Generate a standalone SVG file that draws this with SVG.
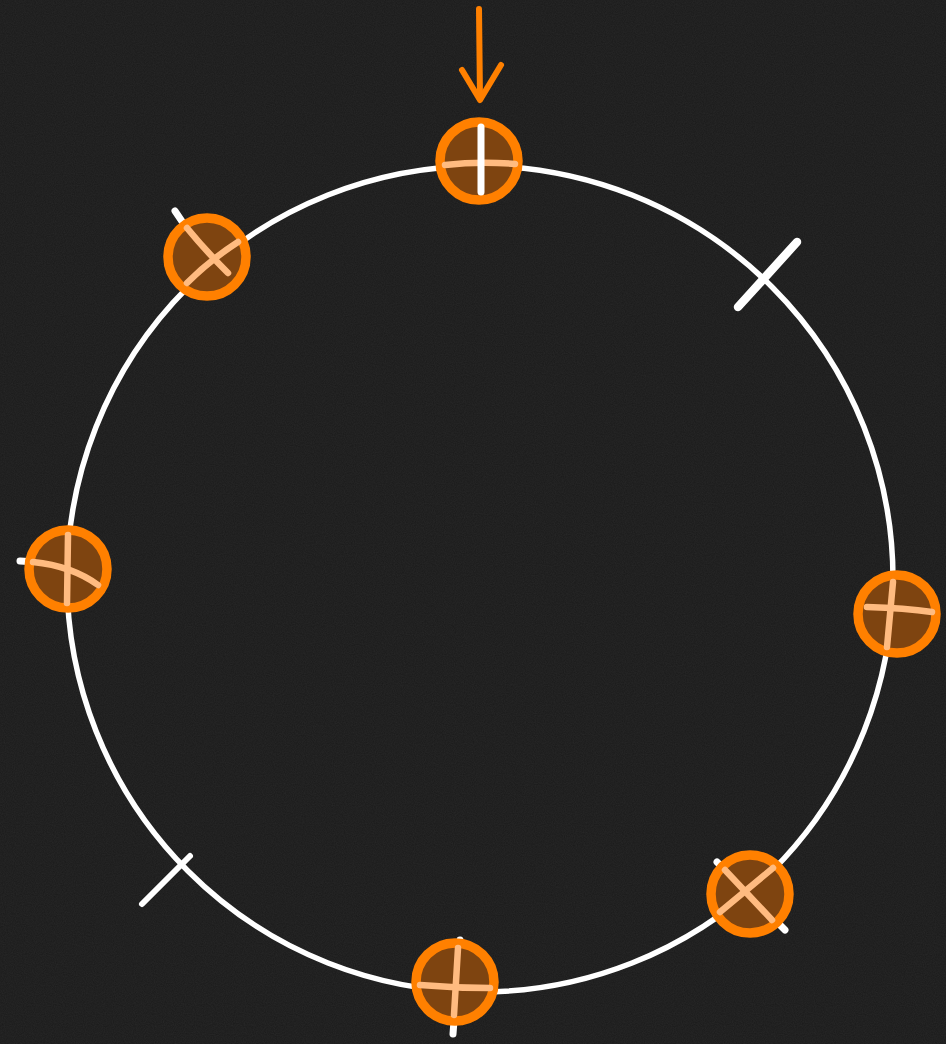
<svg xmlns="http://www.w3.org/2000/svg" width="946" height="1044" viewBox="0 0 946 1044">
<defs>
<filter id="grain" x="0" y="0" width="100%" height="100%">
<feTurbulence type="fractalNoise" baseFrequency="0.9" numOctaves="2" seed="3" result="n"/>
<feColorMatrix in="n" type="matrix" values="0 0 0 0 1  0 0 0 0 1  0 0 0 0 1  0 0 0 0.06 0"/>
</filter>
<style>
.track{fill:none;stroke:#ffffff;stroke-width:5.5}
.tick{stroke:#ffffff;stroke-width:7;stroke-linecap:round;fill:none}
.ring{fill:#7e4410;stroke:#ff8000;stroke-width:9.5}
.cross{stroke:#ffbb80;stroke-width:6.5;stroke-linecap:round;fill:none}
.crossw{stroke:#ffffff;stroke-width:7;stroke-linecap:round;fill:none}
.arrow{stroke:#ff8000;stroke-width:6;stroke-linecap:round;stroke-linejoin:round;fill:none}
</style>
</defs>
<rect width="946" height="1044" fill="#1a1a1a"/>
<rect width="946" height="1044" filter="url(#grain)"/>
<g id="track">
<circle class="track" cx="480" cy="579" r="413"/>
<line class="tick" x1="797" y1="242" x2="738" y2="307" style="stroke-width:8.5"/>
<line class="tick" x1="190" y1="856" x2="142" y2="904" style="stroke-width:6"/>
<line class="tick" x1="175" y1="211" x2="225" y2="285"/>
<line class="tick" x1="20" y1="561" x2="100" y2="566"/>
<line class="tick" x1="717" y1="862" x2="785" y2="930"/>
<line class="tick" x1="460" y1="940" x2="453" y2="1034"/>
</g>
<g id="node-top">
<circle class="ring" cx="479" cy="161" r="39"/>
<path class="cross" d="M445 165 Q480 161 515 164"/>
<line class="crossw" x1="481" y1="127" x2="481" y2="192"/>
</g>
<g id="node-upper-left">
<circle class="ring" cx="207" cy="257" r="39"/>
<path class="cross" d="M187 228 Q205 250 228 273"/>
<path class="cross" d="M187 283 Q210 260 238 242"/>
</g>
<g id="node-left">
<circle class="ring" cx="68" cy="569" r="39"/>
<line class="cross" x1="68" y1="535" x2="67" y2="603"/>
<path class="cross" d="M33 562 Q72 566 98 585"/>
</g>
<g id="node-right">
<circle class="ring" cx="897" cy="614" r="39"/>
<path class="cross" d="M867 607 Q905 608 932 612"/>
<line class="cross" x1="893" y1="582" x2="887" y2="647"/>
</g>
<g id="node-lower-right">
<circle class="ring" cx="750" cy="894" r="39"/>
<line class="cross" x1="725" y1="870" x2="772" y2="920"/>
<line class="cross" x1="720" y1="912" x2="773" y2="868"/>
</g>
<g id="node-bottom">
<circle class="ring" cx="455" cy="982" r="39"/>
<line class="cross" x1="458" y1="948" x2="454" y2="1015"/>
<path class="cross" d="M420 985 Q455 988 490 988"/>
</g>
<g id="connectors">
<path class="arrow" d="M479 9 L480 99"/>
<path class="arrow" d="M462 70 L480 100 L501 65"/>
</g>
</svg>
